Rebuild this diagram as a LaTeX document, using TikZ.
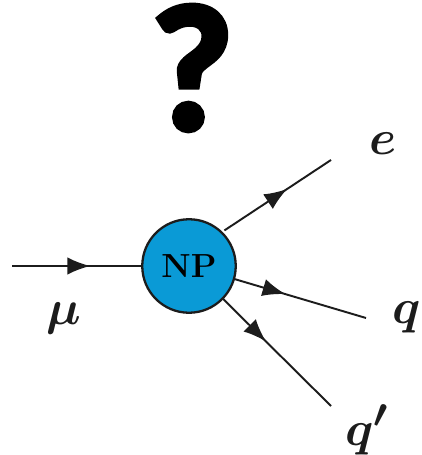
\documentclass[tikz,border=0pt]{standalone}
\usepackage{amsmath}
\usepackage{fontspec}
\usepackage{xcolor}
\usetikzlibrary{arrows.meta,decorations.markings}
\newfontfamily\markfont[FakeBold=4.5]{Lato}
\definecolor{npblue}{HTML}{0A9AD6}
\definecolor{lineblack}{HTML}{1C1C1C}
\tikzset{
  leg/.style={line width=1.1pt,lineblack,postaction={decorate},
    decoration={markings,mark=at position #1 with {\arrow{Latex[length=13pt,width=10pt]}}}},
  blob/.style={circle,draw=lineblack,line width=1.3pt,fill=npblue,minimum size=1.87cm,inner sep=0pt,outer sep=0pt},
  particle/.style={inner sep=0pt,text=lineblack,font=\Huge,scale=1.12}
}
\begin{document}
\begin{tikzpicture}
        \useasboundingbox (0,0) rectangle (8.42,9.1);
        \node[inner sep=0pt,text=black] (mark) at (3.85,7.74) {\markfont\bfseries\fontsize{95}{95}\selectfont ?};
        \node[blob] (np) at (3.78,3.78) {\fontsize{19}{19}\selectfont\bfseries NP};
        \coordinate (mustart) at (0.24,3.78);
        \coordinate (eend) at (6.62,5.9);
        \coordinate (qend) at (7.32,2.74);
        \coordinate (qpend) at (6.62,0.98);
        \node[particle] (mu) at (1.28,2.74) {$\boldsymbol{\mu}$};
        \node[particle] (e) at (7.66,6.22) {$\boldsymbol{e}$};
        \node[particle] (q) at (8.14,2.76) {$\boldsymbol{q}$};
        \node[particle] (qp) at (7.34,0.5) {$\boldsymbol{q'}$};
        \draw[leg=0.60] (mustart) -- (np);
        \draw[leg=0.60,shorten <=2pt] (np.46) -- (eend);
        \draw[leg=0.39] (np.-16) -- (qend);
        \draw[leg=0.40] (np.-44) -- (qpend);
    \end{tikzpicture}
\end{document}
